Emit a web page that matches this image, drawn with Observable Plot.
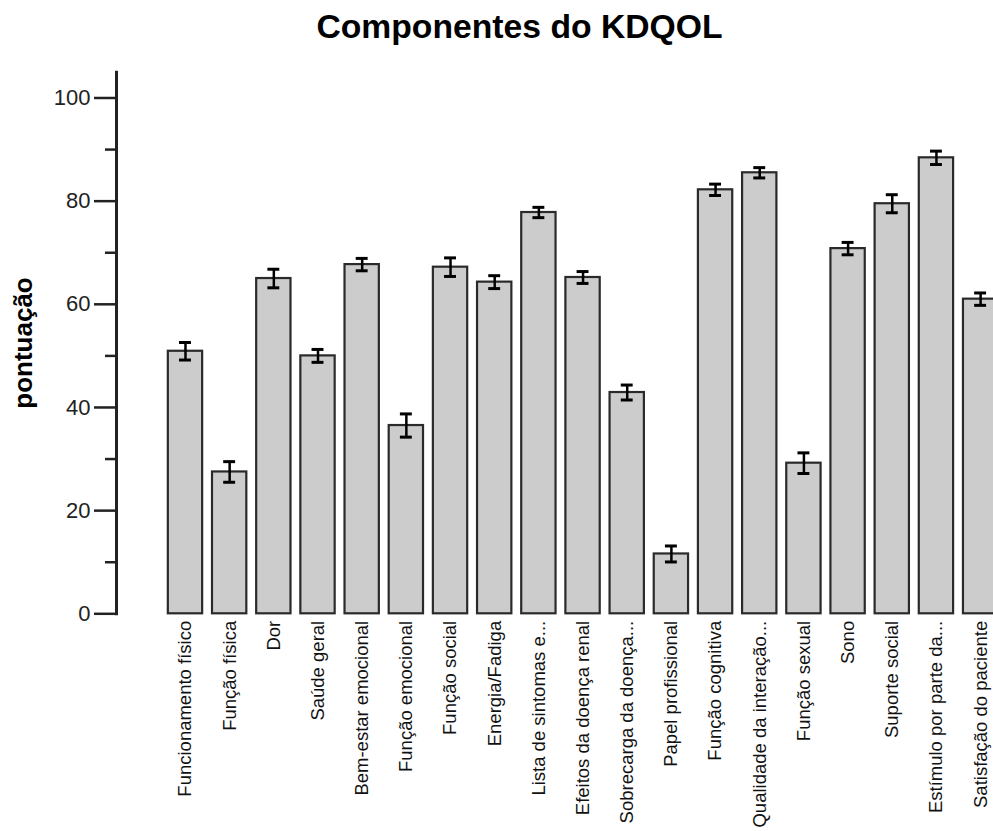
<!DOCTYPE html>
<html><head><meta charset="utf-8">
<script src="https://cdn.jsdelivr.net/npm/d3@7"></script>
<script src="https://cdn.jsdelivr.net/npm/@observablehq/plot@0.6"></script>
<style>
html,body{margin:0;padding:0;background:#fff;overflow:hidden;width:993px;height:831px}
#title{font:bold 33.7px "Liberation Sans",Arial,sans-serif;height:50px;padding-top:7px;overflow:visible;text-align:center;padding-left:46px;box-sizing:border-box;width:993px;color:#000;white-space:nowrap}
</style></head><body>
<div id="title">Componentes do KDQOL</div>
<div id="chart"></div>
<script>
const categories = [
  "Funcionamento físico","Função física","Dor","Saúde geral","Bem-estar emocional",
  "Função emocional","Função social","Energia/Fadiga","Lista de sintomas e...",
  "Efeitos da doença renal","Sobrecarga da doença...","Papel profissional",
  "Função cognitiva","Qualidade da interação...","Função sexual","Sono",
  "Suporte social","Estímulo por parte da...","Satisfação do paciente"
];
const values = [50.9, 27.5, 65.0, 50.0, 67.7, 36.5, 67.2, 64.3, 77.8, 65.2, 42.9, 11.6, 82.2, 85.5, 29.2, 70.8, 79.5, 88.4, 61.0];
const errors = [1.7, 2.0, 1.8, 1.25, 1.2, 2.25, 1.8, 1.25, 1.0, 1.15, 1.45, 1.55, 1.1, 1.0, 2.0, 1.2, 1.75, 1.3, 1.2];
const majorTicks = [0, 20, 40, 60, 80, 100];
const minorTicks = [10, 30, 50, 70, 90];
const yLabel = "pontuação";

const data = categories.map((c, i) => ({c, v: values[i], e: errors[i]}));

const chart = Plot.plot({
  width: 993,
  height: 781,
  marginTop: 21.7,
  marginBottom: 217.7,
  marginLeft: 116,
  marginRight: 0,
  style: {fontFamily: "'Liberation Sans', Arial, sans-serif", background: "white", overflow: "hidden"},
  x: {domain: categories, range: [162.9, 1002.2], paddingInner: 0.223, paddingOuter: 0.1115, round: false, label: null},
  y: {domain: [0, 105], label: null},
  marks: [
    Plot.barY(data, {x: "c", y: "v", fill: "#cccccc", stroke: "#2a2a2a", strokeWidth: 2.2}),
    Plot.ruleX(data, {x: "c", y1: d => d.v - d.e, y2: d => d.v + d.e, stroke: "#000", strokeWidth: 2.5}),
    Plot.tickY(data, {x: "c", y: d => d.v - d.e, stroke: "#000", strokeWidth: 3, insetLeft: 11.2, insetRight: 11.2}),
    Plot.tickY(data, {x: "c", y: d => d.v + d.e, stroke: "#000", strokeWidth: 3, insetLeft: 11.2, insetRight: 11.2}),
    Plot.axisY(majorTicks, {tickSize: 22, tickPadding: 4, fontSize: 22, strokeWidth: 2.5, stroke: "#222", fill: "#222", label: null}),
    Plot.axisY(minorTicks, {tickSize: 11, tickFormat: () => "", strokeWidth: 2.5, stroke: "#222", label: null}),
    Plot.frame({anchor: "left", stroke: "#222", strokeWidth: 3}),
    Plot.axisX({tickRotate: -90, tickSize: 0, tickPadding: 7, fontSize: 18.5, fill: "#111", label: null}),
    Plot.text([yLabel], {text: d => d, frameAnchor: "left", dx: -93, rotate: -90, fontSize: 26, fontWeight: "bold", textAnchor: "middle", lineAnchor: "middle", fill: "#000"})
  ]
});
document.getElementById("chart").appendChild(chart);
</script>
</body></html>
